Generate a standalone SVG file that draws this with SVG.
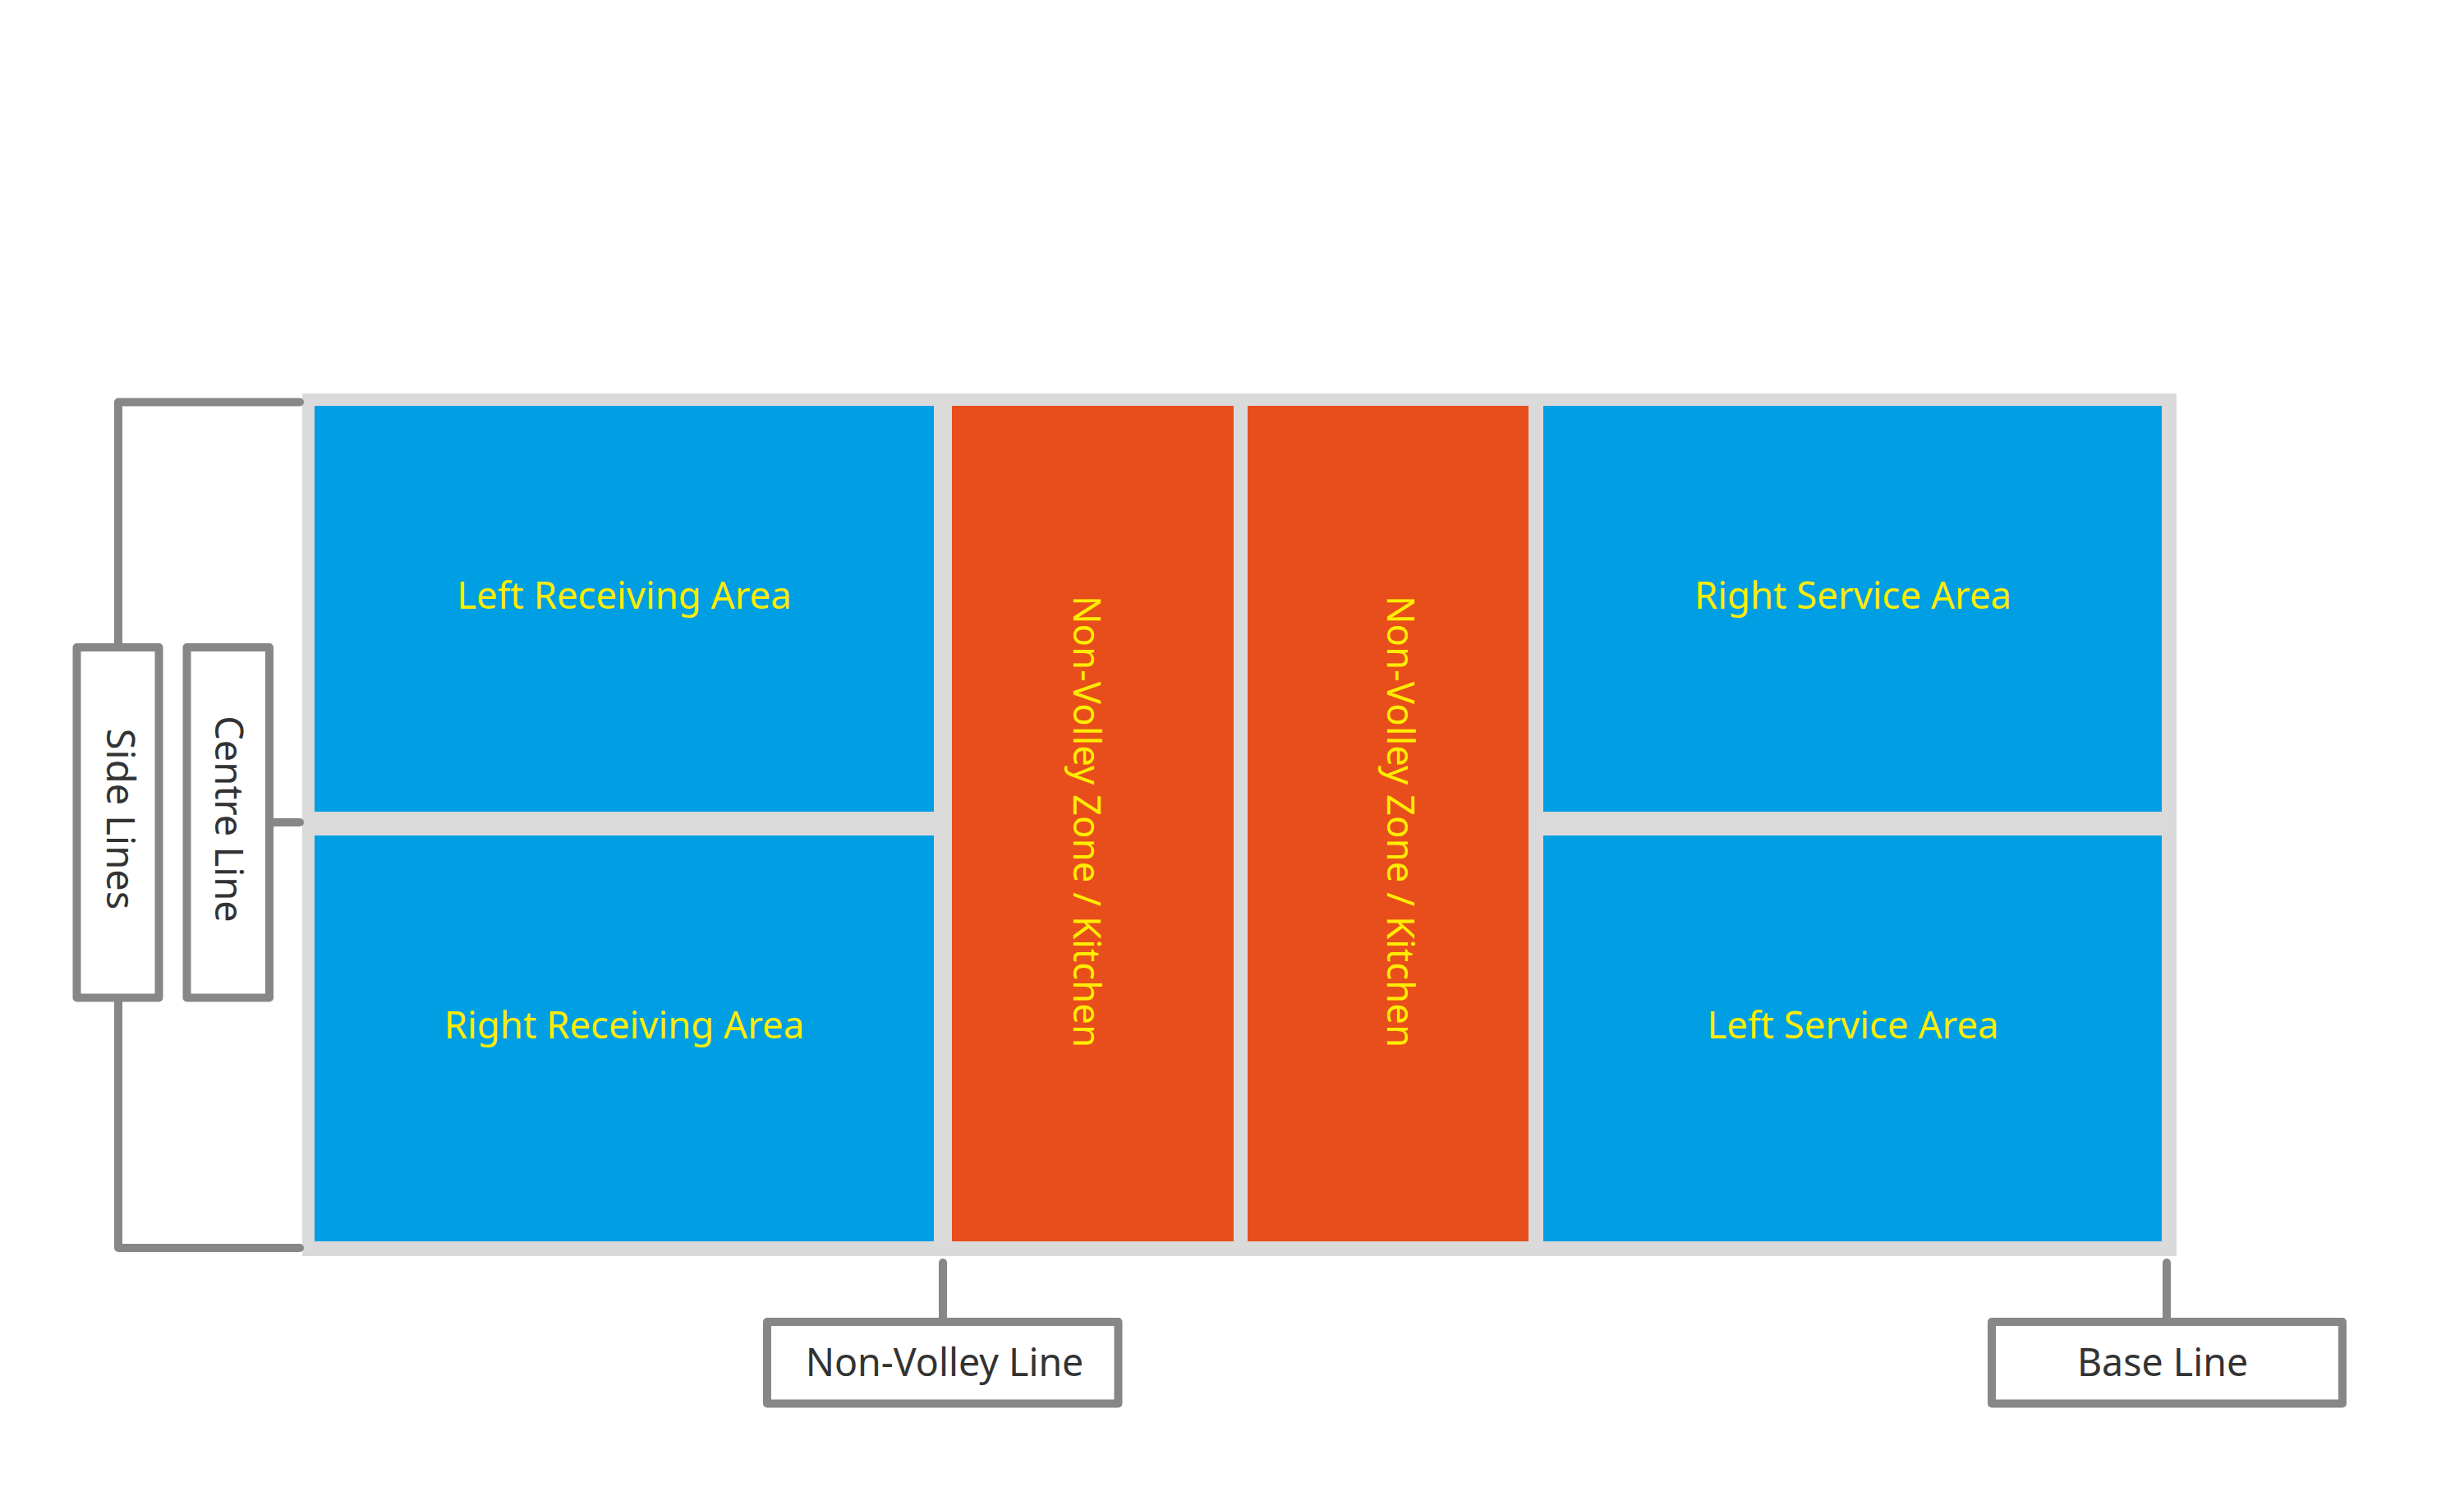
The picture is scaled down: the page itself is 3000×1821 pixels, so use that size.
<svg xmlns="http://www.w3.org/2000/svg" width="3000" height="1821" viewBox="0 0 3000 1821">
<style>
.court{fill:#DADADA}
.blue{fill:#009FE3}
.orange{fill:#E84E1B}
.zone{font-family:"Noto Sans","Liberation Sans",sans-serif;font-size:45.5px;fill:#FFED00;text-anchor:middle}
.lbl{font-family:"Noto Sans","Liberation Sans",sans-serif;font-size:46.5px;fill:#333333;text-anchor:middle}
.vlbl{font-family:"Noto Sans","Liberation Sans",sans-serif;font-size:47px;fill:#333333;text-anchor:middle}
.box{fill:#FFFFFF;stroke:#878787;stroke-width:10;stroke-linejoin:round}
.conn{fill:none;stroke:#878787;stroke-width:10;stroke-linecap:round;stroke-linejoin:round}
</style>
<rect width="3000" height="1821" fill="#FFFFFF"/>
<g id="court">
<rect class="court" x="368" y="479" width="2282" height="1050"/>
</g>
<g id="left-receiving-area">
<rect class="blue" x="383" y="494" width="754" height="494"/>
<text class="zone" x="760" y="741">Left Receiving Area</text>
</g>
<g id="right-receiving-area">
<rect class="blue" x="383" y="1017" width="754" height="494"/>
<text class="zone" x="760" y="1264">Right Receiving Area</text>
</g>
<g id="kitchen-1">
<rect class="orange" x="1159" y="494" width="343" height="1017"/>
<text class="zone" transform="translate(1307,1000) rotate(90)">Non-Volley Zone / Kitchen</text>
</g>
<g id="kitchen-2">
<rect class="orange" x="1519" y="494" width="342" height="1017"/>
<text class="zone" transform="translate(1689,1000) rotate(90)">Non-Volley Zone / Kitchen</text>
</g>
<g id="right-service-area">
<rect class="blue" x="1879" y="494" width="753" height="494"/>
<text class="zone" x="2256" y="741">Right Service Area</text>
</g>
<g id="left-service-area">
<rect class="blue" x="1879" y="1017" width="753" height="494"/>
<text class="zone" x="2256" y="1264">Left Service Area</text>
</g>
<g id="connectors">
<path class="conn" d="M365 489.5H144V788"/>
<path class="conn" d="M144 1214.5V1519H365"/>
<path class="conn" d="M328 1001H365"/>
<path class="conn" d="M1148 1537V1609"/>
<path class="conn" d="M2638 1537V1609"/>
</g>
<g id="side-lines">
<rect class="box" x="93.5" y="788" width="100" height="426.5"/>
<text class="vlbl" transform="translate(130,997) rotate(90)">Side Lines</text>
</g>
<g id="centre-line">
<rect class="box" x="227.5" y="788" width="100.5" height="426.5"/>
<text class="vlbl" transform="translate(262,997) rotate(90)">Centre Line</text>
</g>
<g id="non-volley-line">
<rect class="box" x="934" y="1609" width="427.5" height="99.5"/>
<text class="lbl" x="1150" y="1675">Non-Volley Line</text>
</g>
<g id="base-line">
<rect class="box" x="2425" y="1609" width="427" height="99.5"/>
<text class="lbl" x="2633" y="1675">Base Line</text>
</g>
</svg>
